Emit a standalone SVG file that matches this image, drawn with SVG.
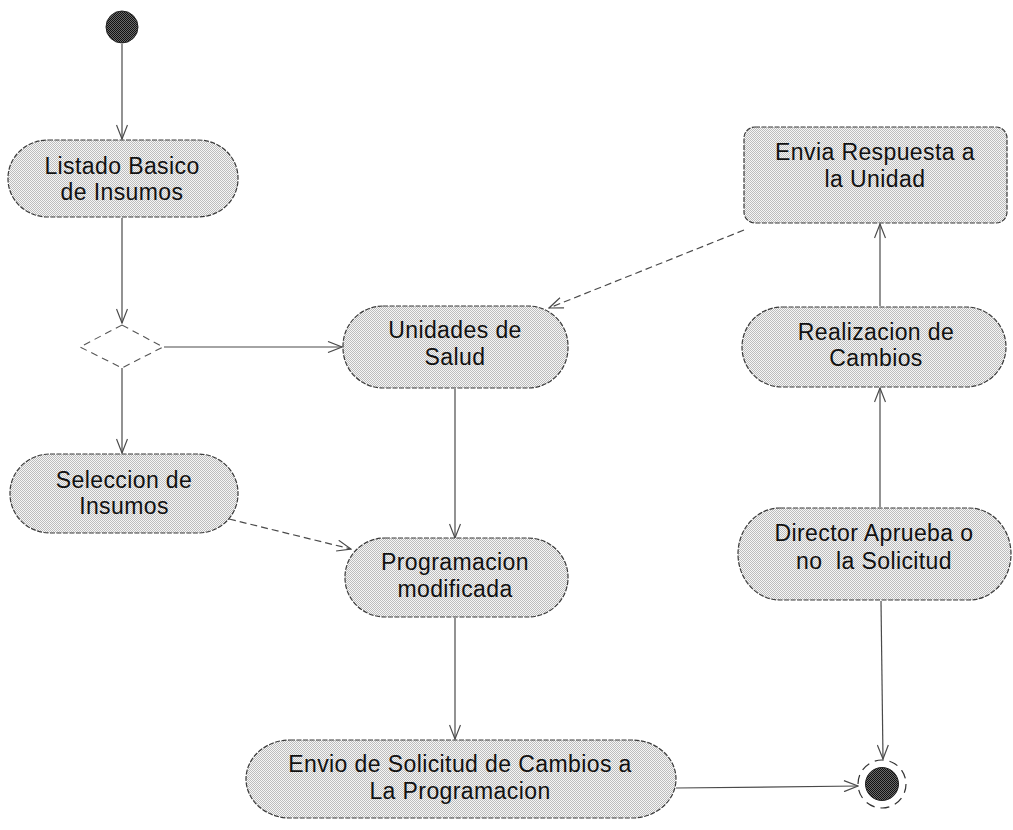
<svg xmlns="http://www.w3.org/2000/svg" width="1013" height="830" viewBox="0 0 1013 830">
  <style>
    .act { fill: url(#dither); stroke: #3a3a3a; stroke-width: 1.2; stroke-dasharray: 5 1.5; }
    .lbl { font-family: "Liberation Sans", Arial, sans-serif; font-size: 23px; letter-spacing: 0.4px; fill: #111; text-anchor: middle; }
    .flow { fill: none; stroke: #4a4a4a; stroke-width: 1.2; marker-end: url(#open); }
    .dash { stroke-dasharray: 7 4; }
  </style>
  <defs>
    <pattern id="dither" width="2" height="2" patternUnits="userSpaceOnUse">
      <rect width="2" height="2" fill="#f6f6f6"/>
      <rect width="1" height="1" fill="#bdbdbd"/>
      <rect x="1" y="1" width="1" height="1" fill="#bdbdbd"/>
    </pattern>
    <pattern id="darkdither" width="2" height="2" patternUnits="userSpaceOnUse">
      <rect width="2" height="2" fill="#6a6a6a"/>
      <rect width="1" height="1" fill="#111"/>
      <rect x="1" y="1" width="1" height="1" fill="#111"/>
    </pattern>
    <marker id="open" viewBox="0 0 16 12" refX="15" refY="6" markerWidth="16" markerHeight="12" markerUnits="userSpaceOnUse" orient="auto">
      <path d="M1,0.5 L15,6 L1,11.5" fill="none" stroke="#4a4a4a" stroke-width="1.2"/>
    </marker>
  </defs>
  <rect width="1013" height="830" fill="#ffffff"/>

  <!-- connectors -->
  <g id="connectors">
    <line class="flow" x1="122" y1="44" x2="122" y2="139"/>
    <line class="flow" x1="122" y1="218" x2="122" y2="323"/>
    <line class="flow" x1="164" y1="347" x2="342" y2="347"/>
    <line class="flow" x1="122" y1="368" x2="122" y2="453"/>
    <line class="flow dash" x1="229" y1="519" x2="351" y2="549"/>
    <line class="flow" x1="455" y1="389" x2="455" y2="538"/>
    <line class="flow" x1="455" y1="618" x2="455" y2="739"/>
    <line class="flow" x1="676" y1="788" x2="858" y2="786"/>
    <line class="flow dash" x1="744" y1="230" x2="549" y2="308"/>
    <line class="flow" x1="880" y1="306" x2="880" y2="224"/>
    <line class="flow" x1="880" y1="507" x2="880" y2="388"/>
    <line class="flow" x1="881" y1="601" x2="883" y2="759"/>
  </g>

  <!-- start -->
  <g id="start">
    <circle cx="122" cy="27" r="16" fill="url(#darkdither)" stroke="#222" stroke-width="1"/>
  </g>

  <g id="listado">
    <rect class="act" x="8" y="140" width="230" height="77" rx="40" ry="38"/>
    <text class="lbl" x="122" y="174">Listado Basico</text>
    <text class="lbl" x="122" y="200">de Insumos</text>
  </g>

  <g id="decision">
    <polygon points="122,325 163,347 122,368 80,347" fill="none" stroke="#555" stroke-width="1.1" stroke-dasharray="7 5"/>
  </g>

  <g id="unidades">
    <rect class="act" x="343" y="306" width="225" height="82" rx="40" ry="40"/>
    <text class="lbl" x="455" y="338">Unidades de</text>
    <text class="lbl" x="455" y="365">Salud</text>
  </g>

  <g id="seleccion">
    <rect class="act" x="10" y="454" width="228" height="79" rx="40" ry="39"/>
    <text class="lbl" x="124" y="488">Seleccion de</text>
    <text class="lbl" x="124" y="514">Insumos</text>
  </g>

  <g id="programacion">
    <rect class="act" x="345" y="538" width="223" height="79" rx="40" ry="39"/>
    <text class="lbl" x="455" y="570">Programacion</text>
    <text class="lbl" x="455" y="597">modificada</text>
  </g>

  <g id="envio">
    <rect class="act" x="246" y="740" width="430" height="78" rx="44" ry="39"/>
    <text class="lbl" x="460" y="772">Envio de Solicitud de Cambios a</text>
    <text class="lbl" x="460" y="799">La Programacion</text>
  </g>

  <g id="envia">
    <rect class="act" x="744" y="127" width="263" height="96" rx="11" ry="11"/>
    <text class="lbl" x="875" y="160">Envia Respuesta a</text>
    <text class="lbl" x="875" y="187">la Unidad</text>
  </g>

  <g id="realizacion">
    <rect class="act" x="742" y="307" width="264" height="80" rx="40" ry="40"/>
    <text class="lbl" x="876" y="340">Realizacion de</text>
    <text class="lbl" x="876" y="366">Cambios</text>
  </g>

  <g id="director">
    <rect class="act" x="738" y="508" width="273" height="92" rx="42" ry="46"/>
    <text class="lbl" x="874" y="541">Director Aprueba o</text>
    <text class="lbl" x="874" y="569" xml:space="preserve">no  la Solicitud</text>
  </g>

  <g id="end">
    <circle cx="882" cy="784" r="24" fill="none" stroke="#333" stroke-width="1.2" stroke-dasharray="9 6"/>
    <circle cx="882" cy="784" r="16.5" fill="url(#darkdither)" stroke="#222" stroke-width="1"/>
  </g>
</svg>
